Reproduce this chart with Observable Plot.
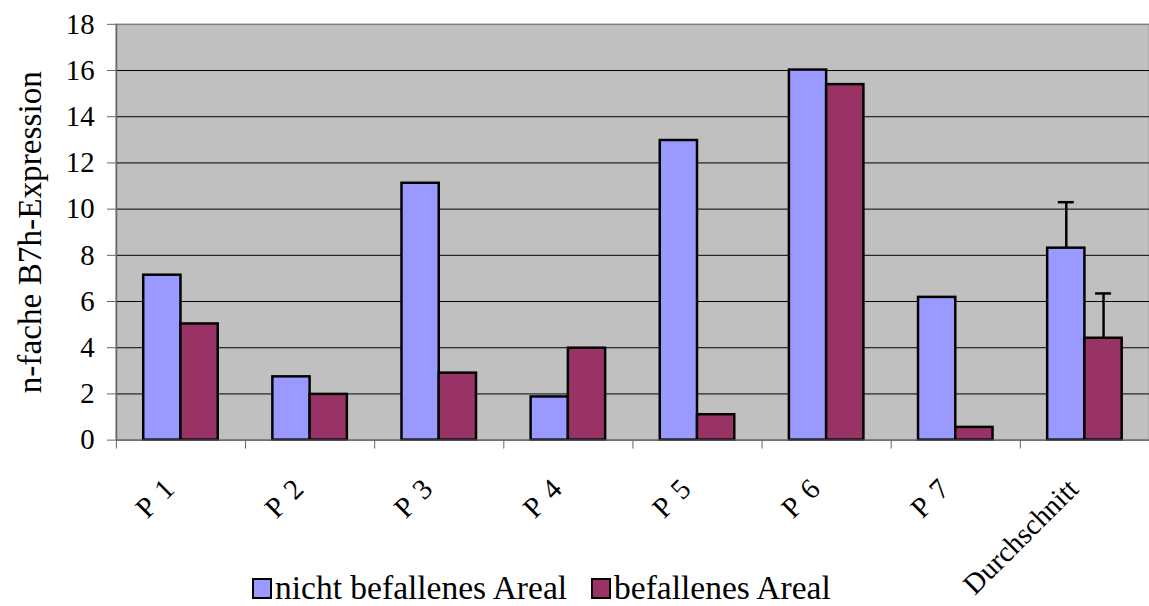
<!DOCTYPE html>
<html><head><meta charset="utf-8">
<script src="https://cdn.jsdelivr.net/npm/d3@7"></script>
<script src="https://cdn.jsdelivr.net/npm/@observablehq/plot@0.6"></script>
<style>
html,body{margin:0;padding:0;background:#fff;overflow:hidden;width:1149px;height:606px;}
#chart{position:relative;width:1149px;height:606px;overflow:hidden;}
#chart svg{position:absolute;left:0;top:0;}
#chart svg .xlab text{word-spacing:4px;}
#legend{position:absolute;left:252px;top:571px;font-family:"Liberation Serif","Times New Roman",serif;font-size:33.5px;line-height:34px;display:flex;align-items:center;white-space:nowrap;color:#000;}
.sw{display:inline-block;width:16px;height:17px;border:2px solid #000;margin-right:3px;}
.item{display:flex;align-items:center;margin-right:24px;}
</style></head><body><div id="chart"><div id="legend"></div></div>
<script>
const categories = ["P 1", "P 2", "P 3", "P 4", "P 5", "P 6", "P 7", "Durchschnitt"];
const seriesNames = ["nicht befallenes Areal", "befallenes Areal"];
const seriesColors = ["#9999FF", "#993366"];
const nichtBefallen = [7.14, 2.74, 11.12, 1.87, 12.97, 16.02, 6.18, 8.31];
const befallen = [5.03, 1.98, 2.90, 3.98, 1.10, 15.39, 0.55, 4.41];
const errNichtBefallen = [null, null, null, null, null, null, null, 1.99];
const errBefallen = [null, null, null, null, null, null, null, 1.94];
const yTicks = [0, 2, 4, 6, 8, 10, 12, 14, 16, 18];
const yTitle = "n-fache B7h-Expression";

const seriesValues = [nichtBefallen, befallen];
const seriesErrors = [errNichtBefallen, errBefallen];
const half = 0.2885; // half group width in band units
const rows = [];
seriesValues.forEach((vals, s) => vals.forEach((v, i) => rows.push({
  i, s, cat: categories[i], series: seriesNames[s], value: v, err: seriesErrors[s][i]
})));
const x1 = d => d.s === 0 ? d.i - half : d.i;
const x2 = d => d.s === 0 ? d.i : d.i + half;
const xc = d => (x1(d) + x2(d)) / 2;
const errRows = rows.filter(d => d.err != null);
const capHalf = 0.062;

const W = 1157, H = 606;
const font = '"Liberation Serif","Times New Roman",serif';
const plot = Plot.plot({
  width: W, height: H,
  marginLeft: 116.7, marginRight: 0, marginTop: 24, marginBottom: 163.3,
  style: {fontFamily: font, fontSize: "29px", background: "transparent", color: "#000"},
  x: {type: "linear", domain: [-0.5, categories.length - 0.5]},
  y: {domain: [0, 18]},
  color: {domain: seriesNames, range: seriesColors},
  marks: [
    Plot.frame({fill: "#C0C0C0", stroke: "#808080", strokeWidth: 1.5}),
    Plot.gridY(yTicks.filter(t => t > 0 && t < 18), {stroke: "#000", strokeOpacity: 1, strokeWidth: 1}),
    Plot.rectY(rows, {x1, x2, y1: 0, y2: "value", fill: "series", stroke: "#000", strokeWidth: 2.5}),
    Plot.ruleX(errRows, {x: xc, y1: d => d.value, y2: d => d.value + d.err, stroke: "#000", strokeWidth: 2.5}),
    Plot.ruleY(errRows, {y: d => d.value + d.err, x1: d => xc(d) - capHalf, x2: d => xc(d) + capHalf, stroke: "#000", strokeWidth: 2.5}),
    Plot.axisY({ticks: yTicks, tickSize: 9, tickPadding: 13, fontSize: 29, label: null, stroke: "#666"}),
    Plot.ruleX([-0.5], {stroke: "#666", strokeWidth: 1.5}),
    Plot.axisX({ticks: d3.range(categories.length + 1).map(k => k - 0.5), tickSize: 9, tickFormat: () => "", label: null, stroke: "#666"}),
    Plot.ruleY([0], {stroke: "#666", strokeWidth: 1.5}),
    Plot.text(categories, {x: (d, i) => i, frameAnchor: "bottom", rotate: -45, textAnchor: "end", lineAnchor: "bottom", dx: -5, dy: 51, fontSize: 29, className: "xlab"}),
    Plot.text([yTitle], {frameAnchor: "left", rotate: -90, textAnchor: "middle", lineAnchor: "middle", dx: -87, fontSize: 33.5})
  ]
});
document.getElementById("chart").prepend(plot);

const legend = document.getElementById("legend");
seriesNames.forEach((n, s) => {
  const item = document.createElement("span");
  item.className = "item";
  const sw = document.createElement("span");
  sw.className = "sw";
  sw.style.background = seriesColors[s];
  item.appendChild(sw);
  item.appendChild(document.createTextNode(n));
  legend.appendChild(item);
});
</script>
</body></html>
